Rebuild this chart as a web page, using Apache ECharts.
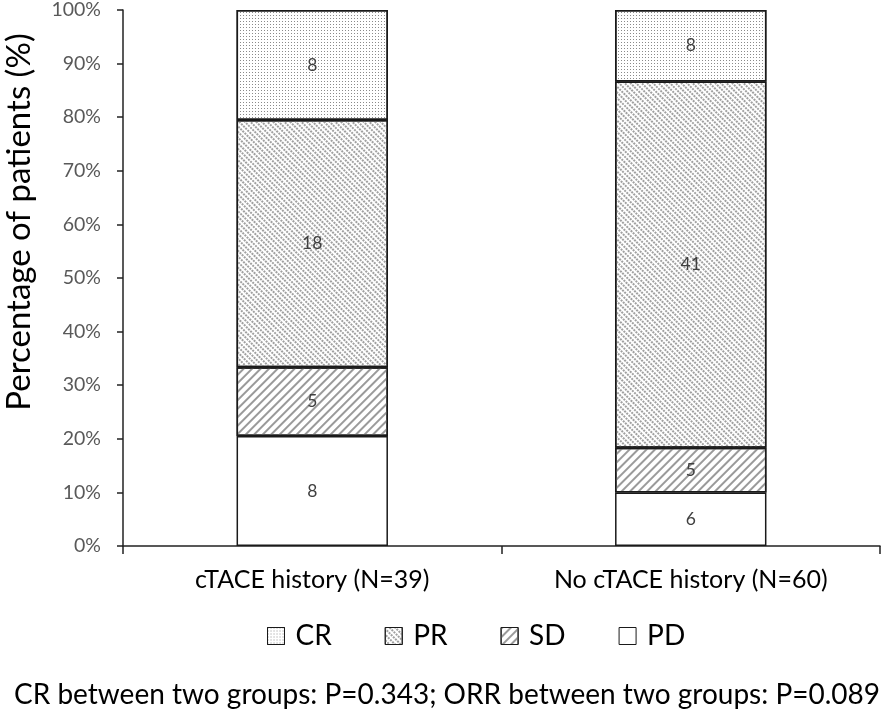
<!DOCTYPE html>
<html><head><meta charset="utf-8">
<script src="https://cdn.jsdelivr.net/npm/echarts@6/dist/echarts.min.js"></script>
<style>html,body{margin:0;padding:0;background:#fff}#c{width:894px;height:712px}</style>
</head><body><div id="c"></div>
<script>
const categories = ['cTACE history (N=39)', 'No cTACE history (N=60)'];
const totals = [39, 60];
const PD = [8, 6];
const SD = [5, 5];
const PR = [18, 41];
const CR = [8, 8];
const yTicks = [0,10,20,30,40,50,60,70,80,90,100];
const footnote = 'CR between two groups: P=0.343; ORR between two groups: P=0.089';

const FONT = 'Lato';
const pct = arr => arr.map((v, i) => ({ value: v / totals[i] * 100, count: v }));

const decals = {
  SD: { symbol: 'rect', symbolSize: 1, dashArrayX: [[1, 0]], dashArrayY: [2, 4], rotation: -Math.PI / 4, color: '#9a9a9a' },
  PR: { symbol: 'rect', symbolSize: 1, dashArrayX: [[2, 1]], dashArrayY: [1.5, 1.5], rotation: Math.PI / 4, color: '#a0a0a0' },
  CR: { symbol: 'rect', symbolSize: 1, dashArrayX: [1, 2], dashArrayY: [1, 2], color: '#8a8a8a' }
};

function mk(name, arr) {
  const itemStyle = { color: '#fff', borderColor: '#1a1a1a', borderWidth: 1.5 };
  if (decals[name]) itemStyle.decal = decals[name];
  return {
    name: name, type: 'bar', stack: 'all', barWidth: '40%',
    data: pct(arr),
    itemStyle: itemStyle,
    label: { show: true, position: 'inside', formatter: p => p.data.count, color: '#404040', fontSize: 17.5, fontFamily: FONT }
  };
}

const chart = echarts.init(document.getElementById('c'));
chart.setOption({
  animation: false,
  grid: { left: 123, right: 14, top: 10, bottom: 166, containLabel: false, outerBoundsMode: 'none' },
  title: { text: footnote, left: 'center', top: 676, textStyle: { fontSize: 28, fontWeight: 'normal', color: '#000', fontFamily: FONT } },
  legend: {
    data: ['CR', 'PR', 'SD', 'PD'], top: 617, left: 262, itemGap: 53,
    itemWidth: 17, itemHeight: 17, icon: 'rect',
    itemStyle: { borderColor: '#1a1a1a', borderWidth: 1 },
    textStyle: { fontSize: 28, color: '#000', fontFamily: FONT, padding: [0, 0, 0, 6], width: 42 }
  },
  xAxis: {
    type: 'category', data: categories,
    axisLine: { lineStyle: { color: '#222', width: 1.5 } },
    axisTick: { show: true, length: 8, lineStyle: { color: '#222', width: 1.5 } },
    axisLabel: { fontSize: 25, color: '#000', margin: 21, fontFamily: FONT }
  },
  yAxis: {
    type: 'value', min: 0, max: 100, interval: 10,
    name: 'Percentage of patients (%)', nameLocation: 'middle', nameGap: 87,
    nameTextStyle: { fontSize: 33, color: '#000', fontFamily: FONT, padding: [0, 0, 0, 112] },
    axisLine: { show: true, lineStyle: { color: '#222', width: 1.5 } },
    axisTick: { show: true, length: 6, lineStyle: { color: '#222', width: 1.5 } },
    axisLabel: { fontSize: 19.5, color: '#595959', margin: 22, fontFamily: FONT, formatter: v => yTicks.includes(v) ? v + '%' : '' },
    splitLine: { show: false }
  },
  series: [mk('PD', PD), mk('SD', SD), mk('PR', PR), mk('CR', CR)]
});
</script></body></html>
